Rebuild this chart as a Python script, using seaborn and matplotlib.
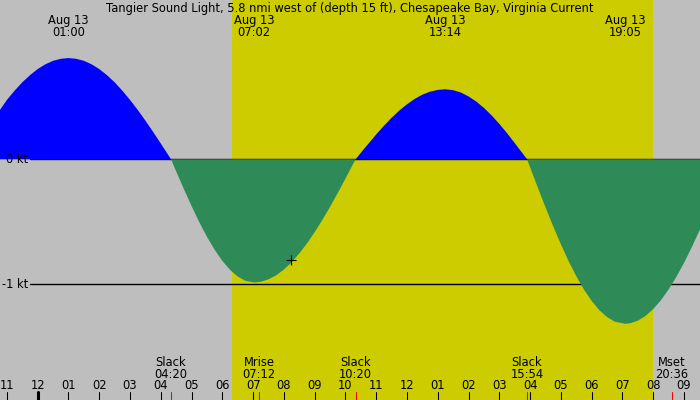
import numpy as np
import pandas as pd
import seaborn as sns
import matplotlib
matplotlib.use("Agg")
import matplotlib.pyplot as plt
from matplotlib.transforms import blended_transform_factory

# current speed (kt), time in hours from midnight Aug 13
times = [-1.225, -1.0, -0.75, -0.5, -0.25, 0.0, 0.25, 0.5, 0.75, 1.0,
         1.25, 1.5, 1.75, 2.0, 2.25, 2.5, 2.75, 3.0, 3.25, 3.5,
         3.75, 4.0, 4.25, 4.333, 4.5, 4.75, 5.0, 5.25, 5.5, 5.75,
         6.0, 6.25, 6.5, 6.75, 7.033, 7.25, 7.5, 7.75, 8.0, 8.25,
         8.5, 8.75, 9.0, 9.25, 9.5, 9.75, 10.0, 10.25, 10.333, 10.5,
         10.75, 11.0, 11.25, 11.5, 11.75, 12.0, 12.25, 12.5, 12.75, 13.0,
         13.233, 13.5, 13.75, 14.0, 14.25, 14.5, 14.75, 15.0, 15.25, 15.5,
         15.75, 15.9, 16.0, 16.25, 16.5, 16.75, 17.0, 17.25, 17.5, 17.75,
         18.0, 18.25, 18.5, 18.75, 19.083, 19.25, 19.5, 19.75, 20.0, 20.25,
         20.5, 20.75, 21.0, 21.25, 21.52]
speeds = [0.395, 0.475, 0.549, 0.616, 0.673, 0.722, 0.760, 0.788, 0.804, 0.81,
          0.804, 0.788, 0.760, 0.722, 0.673, 0.616, 0.549, 0.475, 0.395, 0.309,
          0.219, 0.126, 0.031, 0.0, -0.097, -0.238, -0.374, -0.503, -0.620, -0.724,
          -0.813, -0.885, -0.938, -0.972, -0.985, -0.980, -0.960, -0.928, -0.882, -0.824,
          -0.753, -0.673, -0.583, -0.485, -0.380, -0.269, -0.154, -0.037, 0.0, 0.052,
          0.126, 0.199, 0.268, 0.332, 0.390, 0.440, 0.483, 0.517, 0.541, 0.555,
          0.56, 0.553, 0.534, 0.503, 0.462, 0.411, 0.351, 0.283, 0.209, 0.130,
          0.049, 0.0, -0.065, -0.226, -0.384, -0.536, -0.680, -0.814, -0.935, -1.042,
          -1.133, -1.207, -1.262, -1.299, -1.316, -1.312, -1.291, -1.253, -1.198, -1.128,
          -1.041, -0.941, -0.829, -0.705, -0.561]

# max/min current events
peak_times = [1.0, 7.033, 13.233, 19.083]
peak_labels = ["01:00", "07:02", "13:14", "19:05"]
peak_date = "Aug 13"

# slack and moon events along the bottom
event_names = ["Slack", "Mrise", "Slack", "Slack", "Mset"]
event_times = [4.333, 7.2, 10.333, 15.9, 20.6]
event_labels = ["04:20", "07:12", "10:20", "15:54", "20:36"]

sunrise, sunset = 6.31, 20.0
now_time, now_speed = 8.23, -0.805

hours = list(range(-1, 22))
hour_labels = ["%02d" % ((h - 1) % 12 + 1) for h in hours]

title = "Tangier Sound Light, 5.8 nmi west of (depth 15 ft), Chesapeake Bay, Virginia Current"

df = pd.DataFrame({"time": times, "speed": speeds})

sns.set_theme(style="white")
plt.rcParams['font.family'] = ['DejaVu Sans']
plt.rcParams['text.color'] = 'black'
fs = 8.3

W, H = 700, 400
fig = plt.figure(figsize=(7, 4), dpi=100, facecolor="#bebebe")
ax = fig.add_axes([0, 0, 1, 1])
ax.set_xlim(-1.225, 21.52)
ax.set_ylim(-(H - 159.3) / 125, 159.3 / 125)
ax.axis("off")

ax.axvspan(sunrise, sunset, color="#cccc00", lw=0, zorder=0)

# reference lines
bt = blended_transform_factory(ax.transAxes, ax.transData)
ax.plot([30 / W, 1], [0, 0], color="black", lw=1.0, transform=bt, zorder=1)
ax.plot([30 / W, 1], [-1, -1], color="black", lw=1.0, transform=bt, zorder=1)
ax.text(28 / W, 0, "0 kt", transform=bt, ha="right", va="center", fontsize=fs)
ax.text(28 / W, -1, "-1 kt", transform=bt, ha="right", va="center", fontsize=fs)

t = df["time"].values
v = df["speed"].values
ax.fill_between(t, v, 0, where=v >= 0, interpolate=True, color="#0000ff", lw=0, zorder=2)
ax.fill_between(t, v, 0, where=v <= 0, interpolate=True, color="#2e8b57", lw=0, zorder=2)

sns.scatterplot(x=[now_time], y=[now_speed], marker="+", s=42, color="black",
                linewidth=0.8, ax=ax, zorder=3)

tx = blended_transform_factory(ax.transData, ax.transAxes)
fy = lambda p: 1 - p / H

ax.text(0.5, fy(12), title, transform=ax.transAxes, ha="center", va="baseline", fontsize=fs)
for pt, lab in zip(peak_times, peak_labels):
    ax.text(pt, fy(24.3), peak_date, transform=tx, ha="center", va="baseline", fontsize=fs)
    ax.text(pt, fy(36), lab, transform=tx, ha="center", va="baseline", fontsize=fs)

for name, et, lab in zip(event_names, event_times, event_labels):
    ax.text(et, fy(366), name, transform=tx, ha="center", va="baseline", fontsize=fs)
    ax.text(et, fy(377.5), lab, transform=tx, ha="center", va="baseline", fontsize=fs)
    ax.plot([et, et], [0, 8 / H], color="red", lw=0.75, transform=tx, zorder=4)

for h, lab in zip(hours, hour_labels):
    ax.text(h, fy(389.3), lab, transform=tx, ha="center", va="baseline", fontsize=fs)
    ax.plot([h, h], [0, 8 / H], color="black", lw=2.2 if h == 0 else 0.75,
            transform=tx, zorder=4)

fig.savefig("out.png", dpi=100)
